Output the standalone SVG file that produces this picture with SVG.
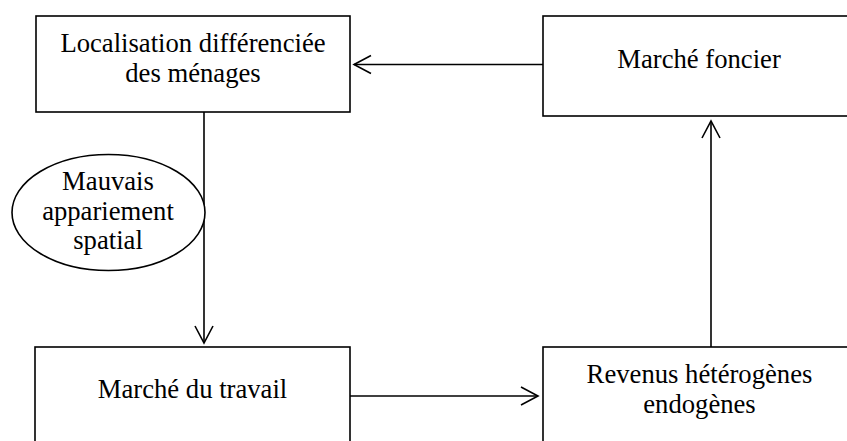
<svg xmlns="http://www.w3.org/2000/svg" width="847" height="441" viewBox="0 0 847 441">
<style>
.box{fill:#fff;stroke:#000;stroke-width:1.6}
.t{font-family:"Liberation Serif","Times New Roman",serif;font-size:26.67px;fill:#000;text-anchor:middle}
.c{stroke:#000;stroke-width:1.6;fill:none}
</style>
<defs>
<marker id="arr" markerUnits="userSpaceOnUse" markerWidth="24" markerHeight="24" viewBox="-20 -12 24 24" refX="0" refY="0" orient="auto">
<path d="M-17,-9 L0,0 L-17,9" fill="none" stroke="#000" stroke-width="1.6"/>
</marker>
</defs>
<rect width="847" height="441" fill="#fff"/>
<g id="connectors">
<line class="c" x1="543" y1="64.5" x2="354" y2="64.5" marker-end="url(#arr)"/>
<line class="c" x1="204" y1="112" x2="204" y2="343" marker-end="url(#arr)"/>
<line class="c" x1="350" y1="396" x2="538" y2="396" marker-end="url(#arr)"/>
<line class="c" x1="711" y1="347" x2="711" y2="121" marker-end="url(#arr)"/>
</g>
<g id="node-localisation">
<rect class="box" x="36" y="16" width="314" height="96"/>
<text class="t" x="193" y="52">Localisation différenciée</text>
<text class="t" x="193" y="82">des ménages</text>
</g>
<g id="node-foncier">
<rect class="box" x="543" y="16" width="314" height="100"/>
<text class="t" x="699" y="68">Marché foncier</text>
</g>
<g id="node-appariement">
<ellipse class="box" cx="108.5" cy="212.5" rx="96.5" ry="58"/>
<text class="t" x="108" y="190">Mauvais</text>
<text class="t" x="108" y="220">appariement</text>
<text class="t" x="108" y="249">spatial</text>
</g>
<g id="node-travail">
<rect class="box" x="35" y="347" width="315" height="110"/>
<text class="t" x="192.5" y="398">Marché du travail</text>
</g>
<g id="node-revenus">
<rect class="box" x="543" y="347" width="314" height="110"/>
<text class="t" x="699.5" y="383">Revenus hétérogènes</text>
<text class="t" x="699.5" y="413">endogènes</text>
</g>
</svg>
